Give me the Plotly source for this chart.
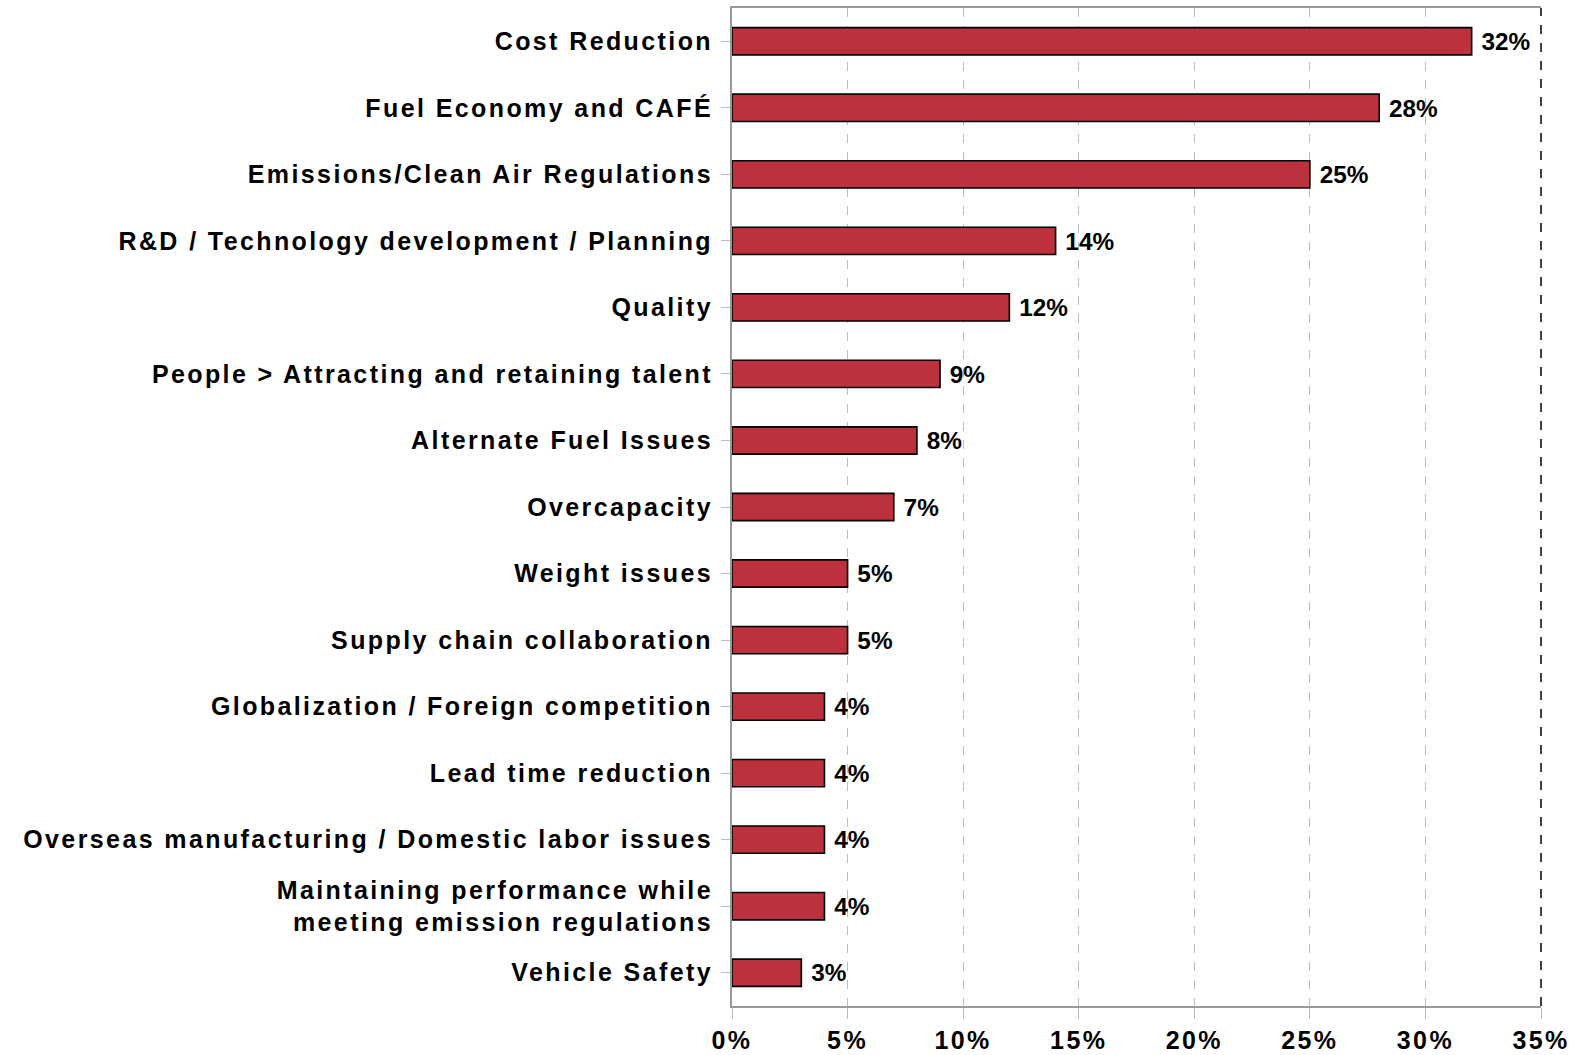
import plotly.graph_objects as go

# data, top to bottom
issues = [
    "Cost Reduction",
    "Fuel Economy and CAFÉ",
    "Emissions/Clean Air Regulations",
    "R&D / Technology development / Planning",
    "Quality",
    "People > Attracting and retaining talent",
    "Alternate Fuel Issues",
    "Overcapacity",
    "Weight issues",
    "Supply chain collaboration",
    "Globalization / Foreign competition",
    "Lead time reduction",
    "Overseas manufacturing / Domestic labor issues",
    "Maintaining performance while<br>meeting emission regulations",
    "Vehicle Safety",
]
share = [32, 28, 25, 14, 12, 9, 8, 7, 5, 5, 4, 4, 4, 4, 3]

x_ticks = [0, 5, 10, 15, 20, 25, 30, 35]
x_tick_labels = ["0%", "5%", "10%", "15%", "20%", "25%", "30%", "35%"]

FONT = "Liberation Sans, Arial, sans-serif"

fig = go.Figure()
fig.add_trace(go.Bar(
    y=issues,
    x=share,
    orientation="h",
    width=0.41,
    marker=dict(color="#BC313C", line=dict(color="black", width=1.6)),
    text=[f" {v}%" for v in share],
    textposition="outside",
    textfont=dict(family=FONT, size=25, color="black", weight="bold"),
    cliponaxis=False,
))

fig.update_layout(
    width=1574,
    height=1055,
    margin=dict(l=732, r=33, t=8, b=49),
    plot_bgcolor="white",
    paper_bgcolor="white",
    showlegend=False,
    font=dict(family=FONT, size=25, color="black", weight="bold"),
    xaxis=dict(
        range=[0, 35],
        tickvals=x_ticks,
        ticktext=x_tick_labels,
        showgrid=True,
        gridcolor="#BDBDBD",
        griddash="dash",
        gridwidth=1,
        showline=True,
        linecolor="#999999",
        linewidth=2,
        mirror=True,
        ticks="outside",
        ticklen=11,
        tickcolor="#BDBDBD",
        zeroline=False,
        automargin=False,
        tickfont=dict(family=FONT, size=25, color="black", weight="bold"),
    ),
    yaxis=dict(
        categoryorder="array",
        categoryarray=issues,
        autorange="reversed",
        showgrid=False,
        showline=True,
        linecolor="#999999",
        linewidth=2,
        ticks="outside",
        ticklen=9,
        tickcolor="#BDBDBD",
        ticklabelstandoff=3,
        automargin=False,
        tickfont=dict(family=FONT, size=25, color="black", weight="bold"),
    ),
)

# right edge of the frame is a black dashed line
fig.add_shape(type="line", xref="paper", yref="paper", x0=1, x1=1, y0=0, y1=1,
              line=dict(color="black", width=1.5, dash="dash"))

# no page margin; the original text is widely tracked
post = """
document.body.style.margin = '0';
var gd = document.getElementById('{plot_id}');
function track() {
  gd.querySelectorAll('.ytick text, .xtick text').forEach(function (t) {
    t.style.letterSpacing = '2.4px';
  });
  gd.querySelectorAll('.textpoint text').forEach(function (t) {
    t.style.letterSpacing = '2px';
  });
}
track();
gd.on('plotly_afterplot', track);
"""

fig.write_html("out.html", post_script=post, config={"displayModeBar": False})
